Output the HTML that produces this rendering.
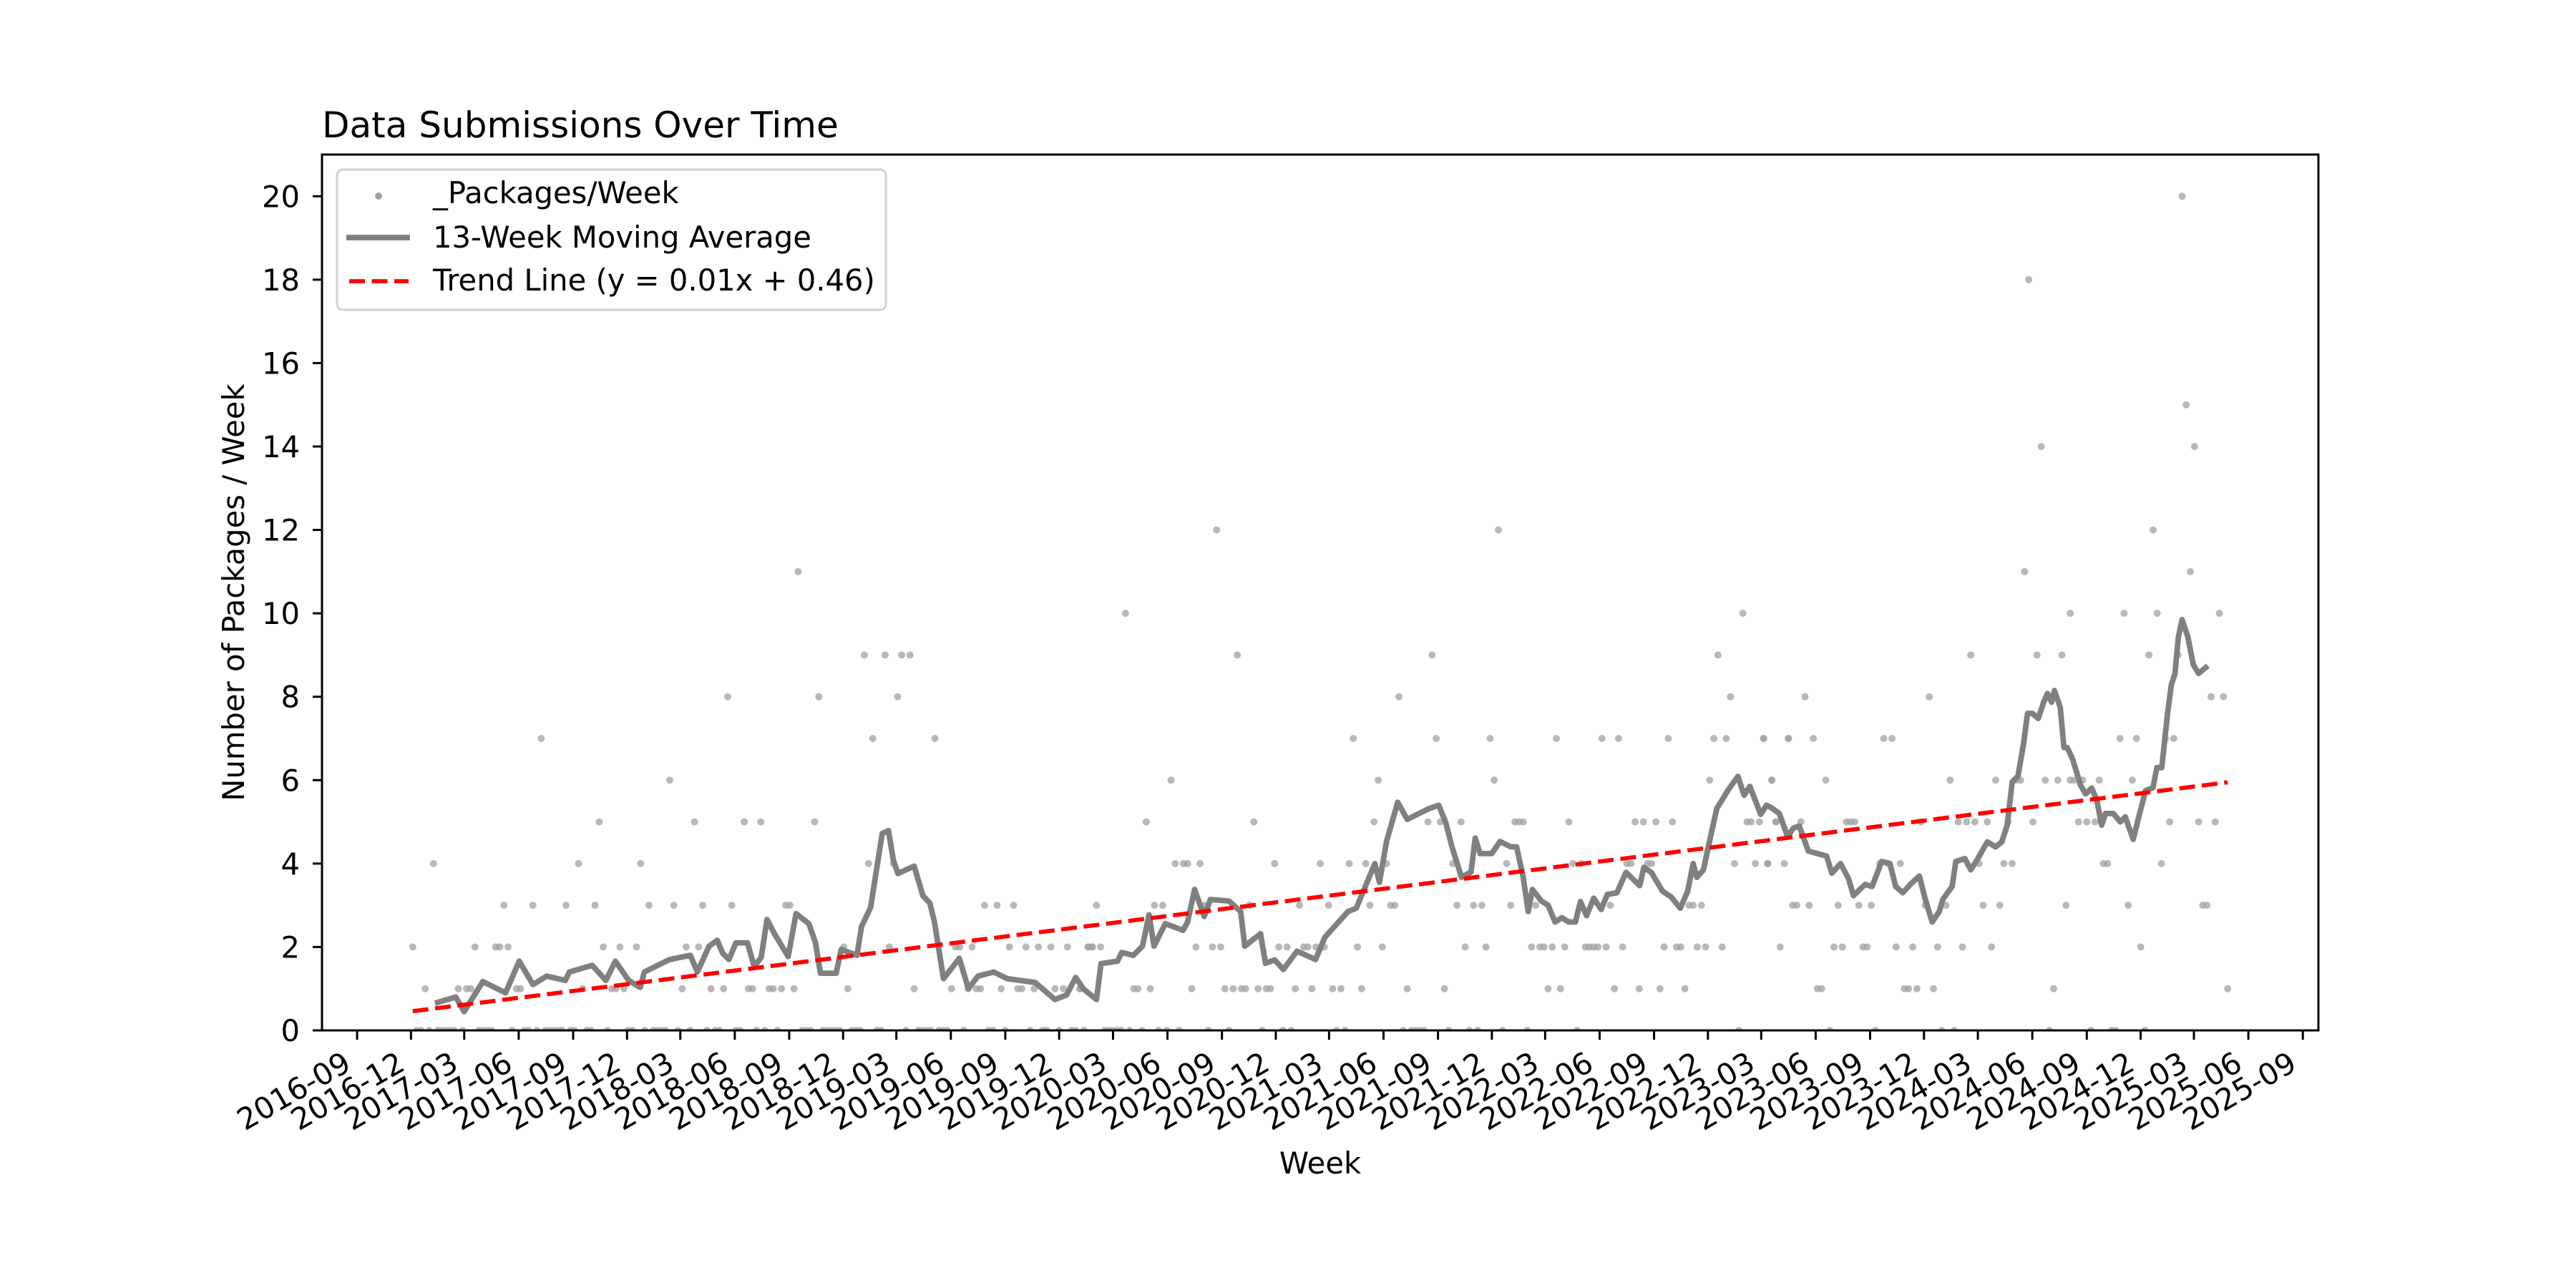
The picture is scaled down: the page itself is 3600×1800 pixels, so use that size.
<!DOCTYPE html>
<html><head><meta charset="utf-8"><style>
html,body{margin:0;padding:0;background:#fff}
svg{display:block;font-family:"DejaVu Sans","Liberation Sans",sans-serif}
</style></head><body>
<svg id="chart" width="3600" height="1800" viewBox="0 0 3600 1800" xmlns="http://www.w3.org/2000/svg">
<rect x="0" y="0" width="3600" height="1800" fill="#fff"/>
<g id="marks"></g>
<g id="axes"></g>
</svg>
<script>
// ---- data ----
const startDate = "2016-12-04";
const nWeeks = 438;
const maWeeks = [6,10.4,12.4,16.9,22.4,25.7,29,32.3,36.8,37.8,43.3,46.6,48.9,52.1,54.9,55.9,62,67,68.7,71.5,73.5,74.8,76.3,78,80.8,82.4,84.1,85.5,87.4,90.6,92.5,95.6,97.2,98.4,102.2,103.4,107.2,108.3,110.5,113.3,114.8,116,117.1,121,123.1,124.8,125.9,128.1,131.9,134.1,136.4,140.2,143.5,150.2,155,157.8,160,161.8,165,166.1,170.1,171.1,173.9,176.1,177.7,178.9,181.6,185.9,187,188.7,191,192.5,197,199.8,200.8,204.6,205.8,208,210.1,213.4,217.9,220.1,225.7,227.7,232.2,233.3,235,237.7,240,245.3,247.6,249.3,250.9,253.1,255.4,256.4,257.6,260.4,262.4,265,266.4,268,269.2,270.2,272.4,274,275.7,277.3,279,280.6,281.8,283.3,285,286.8,288.3,290.6,292.8,296.1,297.1,298.9,301.6,303.7,305.9,307.7,309,309.9,311.5,312.5,314.7,317.5,319.8,321.3,322.7,325.3,326.7,328,329.8,331.8,333.2,334.6,336.8,338.6,341.2,342.5,344.6,346.5,347.7,350.5,352.2,354.5,356.5,357.9,359.6,361.4,363.6,365,366.7,368.4,369.3,371.5,372.4,374.6,376,377.7,380,382,383.5,384.8,386,387.4,388.8,389.7,390.9,392.3,393.6,394.5,395.5,396.2,397.6,398.5,399.3,400.6,402.5,403.7,405.2,406.4,407.6,408.5,410.4,412.1,413.3,415.2,416.4,418.2,420,420.9,422.1,423.5,424.4,425.3,426.1,427,428.4,429.7,431,432.7];
const maValues = [0.67,0.8,0.45,1.17,0.9,1.66,1.1,1.3,1.2,1.4,1.56,1.2,1.66,1.2,1.03,1.4,1.7,1.8,1.4,2.02,2.16,1.85,1.7,2.1,2.1,1.53,1.75,2.66,2.3,1.77,2.8,2.56,2.1,1.37,1.37,1.94,1.8,2.49,2.95,4.72,4.79,4.08,3.76,3.94,3.23,3.05,2.6,1.24,1.73,1.0,1.3,1.4,1.24,1.15,0.74,0.85,1.27,1.0,0.74,1.6,1.66,1.87,1.8,2.02,2.77,2.02,2.56,2.4,2.6,3.38,2.73,3.14,3.1,2.85,2.02,2.32,1.61,1.69,1.46,1.9,1.7,2.23,2.85,2.93,4.0,3.55,4.53,5.47,5.06,5.32,5.4,4.98,4.37,3.67,3.8,4.61,4.24,4.24,4.53,4.4,4.4,3.67,2.85,3.38,3.1,3.0,2.6,2.7,2.6,2.6,3.09,2.75,3.17,2.9,3.26,3.3,3.79,3.47,3.91,3.79,3.34,3.2,2.93,3.34,4.0,3.67,3.85,4.32,5.32,5.77,6.09,5.64,5.85,5.18,5.4,5.33,5.2,4.65,4.85,4.9,4.3,4.25,4.18,3.77,4.0,3.64,3.23,3.5,3.45,4.05,4.0,3.45,3.3,3.5,3.7,3.15,2.6,2.85,3.15,3.45,4.05,4.12,3.85,4.12,4.52,4.4,4.52,4.92,5.96,6.1,6.91,7.6,7.6,7.48,7.87,8.08,7.87,8.15,7.75,6.78,6.78,6.5,5.88,5.67,5.81,5.53,4.92,5.2,5.2,5.0,5.12,4.58,5.06,5.75,5.82,6.3,6.3,7.6,8.28,8.56,9.43,9.85,9.43,8.77,8.56,8.7,9.1,8.56];
const ptWeeks = [0,15,20,21,23,46,50,54,66,69,104,115,131,132,135,144,148,151,154,158,163,164,166,
 3,11,13,14,25,26,41,48,49,51,65,72,75,81,82,86,87,89,92,105,121,130,134,136,137,142,146,147,150,155,157,161,
 22,29,37,44,57,63,70,77,90,91,138,141,145,165, 5,40,55,110,116, 45,68,80,84,97, 62, 31,111,126, 76,98,117, 109,114,118,120, 93,
 161,174,175,178,188,196,198,200,201,204,206,207,213,217,222,224,229,240,249,274,277,290,296,301,307,
 163,164,189,193,195,209,211,215,216,218,220,228,234,254,259,270,272,273,275,278,283,284,285,286,288,292,302,305,306,310,312,316,330,
 179,181,191,202,214,221,231,236,237,252,256,258,265,271,289,308,309,311,
 184,186,187,190,208,219,226,230,235,251,264,280,282,293,294,298,299,319,324,327,331,
 177,203,232,245,248,253,266,267,268,279,295,297,300,304,322,323,329,
 183,233,261,313,328, 227,247,260,276,287,291,303,314,317,326,332, 238,318, 199,246,315, 172,321, 194,262,
 339,340,360,361,363,367,396,438, 343,345,350,351,358,362,368,374,381,417,
 333,334,337,344,349,352,365,370,379,383,399,414,432,433, 327,354,356,359,378,384,386,408,409,422,
 325,329,335,346,347,348,364,373,375,377,380,385,391,402,404,406,424,431,435,
 328,341,371,382,387,388,394,397,400,401,403,407,415, 326,332,338,355,357,412,416,423,425,
 336,366,434,437, 376,392,398,419,426, 400,413,421,436, 389,429, 420, 393,430, 428, 390, 427];
const ptValues = [2,2,2,2,2,2,2,2,2,2,2,2,2,2,2,2,2,2,2,2,2,2,2,
 1,1,1,1,1,1,1,1,1,1,1,1,1,1,1,1,1,1,1,1,1,1,1,1,1,1,1,1,1,1,1,1,
 3,3,3,3,3,3,3,3,3,3,3,3,3,3, 4,4,4,4,4, 5,5,5,5,5, 6, 7,7,7, 8,8,8, 9,9,9,9, 11,
 1,1,1,1,1,1,1,1,1,1,1,1,1,1,1,1,1,1,1,1,1,1,1,1,1,
 2,2,2,2,2,2,2,2,2,2,2,2,2,2,2,2,2,2,2,2,2,2,2,2,2,2,2,2,2,2,2,2,2,
 3,3,3,3,3,3,3,3,3,3,3,3,3,3,3,3,3,3,
 4,4,4,4,4,4,4,4,4,4,4,4,4,4,4,4,4,4,4,4,4,
 5,5,5,5,5,5,5,5,5,5,5,5,5,5,5,5,5,
 6,6,6,6,6, 7,7,7,7,7,7,7,7,7,7,7, 8,8, 9,9,9, 10,10, 12,12,
 1,1,1,1,1,1,1,1, 2,2,2,2,2,2,2,2,2,2,
 3,3,3,3,3,3,3,3,3,3,3,3,3,3, 4,4,4,4,4,4,4,4,4,4,
 5,5,5,5,5,5,5,5,5,5,5,5,5,5,5,5,5,5,5,
 6,6,6,6,6,6,6,6,6,6,6,6,6, 7,7,7,7,7,7,7,7,7,
 8,8,8,8, 9,9,9,9,9, 10,10,10,10, 11,11, 12, 14,14, 15, 18, 20];
const trendSlope = 0.01253, trendIntercept = 0.46;
const yTicks = [0,2,4,6,8,10,12,14,16,18,20];
const xTickLabels = ["2016-09","2016-12","2017-03","2017-06","2017-09","2017-12","2018-03","2018-06","2018-09","2018-12","2019-03","2019-06","2019-09","2019-12","2020-03","2020-06","2020-09","2020-12","2021-03","2021-06","2021-09","2021-12","2022-03","2022-06","2022-09","2022-12","2023-03","2023-06","2023-09","2023-12","2024-03","2024-06","2024-09","2024-12","2025-03","2025-06","2025-09"];

// ---- geometry ----
const L=450,R=3240,T=216,B=1440, YMAX=21;
const DAY=86400000;
const t0 = Date.parse(startDate+"T00:00:00Z");
const tEnd = t0 + nWeeks*7*DAY;
const span = tEnd - t0;
const xmin = t0 - 0.05*span, xmax = tEnd + 0.05*span;
const xT = t => L + (t - xmin)/(xmax - xmin)*(R-L);
const xW = w => xT(t0 + w*7*DAY);
const yV = v => B - v/YMAX*(B-T);
const NS="http://www.w3.org/2000/svg";
function mk(tag, attrs, parent){const e=document.createElementNS(NS,tag);for(const k in attrs)e.setAttribute(k,attrs[k]);parent.appendChild(e);return e;}
const marks=document.getElementById('marks'), axes=document.getElementById('axes');

const defs=mk('defs',{},marks);
const cp=mk('clipPath',{id:'clip'},defs);
mk('rect',{x:L,y:T,width:R-L,height:B-T},cp);

const sg=mk('g',{'clip-path':'url(#clip)'},marks);


const nonzero=new Set(ptWeeks);
for(let w=0;w<=nWeeks;w++){
  if(nonzero.has(w)) continue;
  const c=mk('circle',{cx:xW(w),cy:yV(0),r:5,fill:'#a0a0a0','fill-opacity':0.75},sg);
  
  
}
for(let i=0;i<ptWeeks.length;i++){
  const c=mk('circle',{cx:xW(ptWeeks[i]),cy:yV(ptValues[i]),r:5,fill:'#a0a0a0','fill-opacity':0.75},sg);
  
  
}
let d='';
for(let i=0;i<maWeeks.length;i++){d+=(i?'L':'M')+xW(maWeeks[i]).toFixed(1)+','+yV(maValues[i]).toFixed(1);}
const ma=mk('path',{d:d,fill:'none',stroke:'#808080','stroke-width':7.8,'stroke-linejoin':'round','stroke-linecap':'square'},marks);


const tr=mk('line',{x1:xW(0),y1:yV(trendIntercept),x2:xW(nWeeks),y2:yV(trendIntercept+trendSlope*nWeeks),stroke:'#ff0000','stroke-width':5.8,'stroke-dasharray':'22 9.5'},marks);



const fr=mk('rect',{x:L,y:T,width:R-L,height:B-T,fill:'none',stroke:'#000','stroke-width':3},axes);


for(const v of yTicks){
  const y=yV(v);
  mk('line',{x1:L-13,y1:y,x2:L,y2:y,stroke:'#000','stroke-width':3},axes);
  const t=mk('text',{x:419,y:y+15,'text-anchor':'end','font-size':41.7,fill:'#000'},axes);
  t.textContent=v;
  
  
}
for(const lab of xTickLabels){
  const x=xT(Date.parse(lab+"-01T00:00:00Z"));
  mk('line',{x1:x,y1:B,x2:x,y2:B+13,stroke:'#000','stroke-width':3},axes);
  const t=mk('text',{transform:`translate(${(x-22).toFixed(1)},1466) rotate(-30)`,x:0,y:32,'text-anchor':'end','font-size':41.7,fill:'#000'},axes);
  t.textContent=lab;
  
  
}
</script>
<svg style="position:absolute;left:0;top:0" width="3600" height="1800" xmlns="http://www.w3.org/2000/svg" font-family="DejaVu Sans, Liberation Sans, sans-serif">
<text x="450" y="192" font-size="50" fill="#000">Data Submissions Over Time</text>
<text x="1845" y="1640" font-size="41.7" text-anchor="middle" fill="#000">Week</text>
<text transform="translate(341,828) rotate(-90)" font-size="41.7" text-anchor="middle" fill="#000">Number of Packages / Week</text>
<g>
<rect x="471" y="237" width="767" height="196" rx="8" fill="#fff" fill-opacity="0.8" stroke="#d0d0d0" stroke-width="3"/>
<circle cx="529" cy="274" r="5" fill="#a0a0a0"/>
<text x="605" y="284" font-size="41.7" fill="#000">_Packages/Week</text>
<line x1="484" y1="332" x2="573" y2="332" stroke="#808080" stroke-width="7.8"/>
<text x="605" y="346" font-size="41.7" fill="#000">13-Week Moving Average</text>
<line x1="488" y1="393" x2="571" y2="393" stroke="#ff0000" stroke-width="5.8" stroke-dasharray="22 9.5"/>
<text x="605" y="406" font-size="41.7" fill="#000">Trend Line (y = 0.01x + 0.46)</text>
</g>
</svg>
</body></html>
